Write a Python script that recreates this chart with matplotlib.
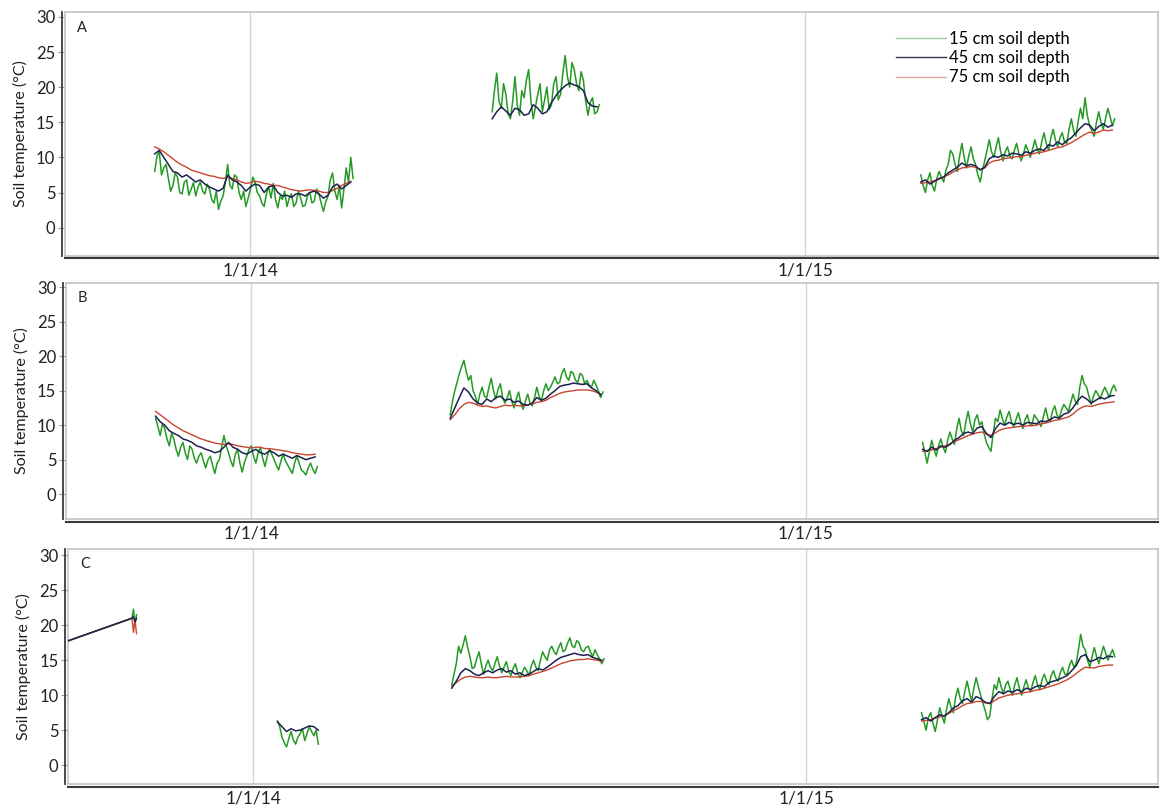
import matplotlib

matplotlib.use("Agg")
import matplotlib.pyplot as plt
import matplotlib.transforms as mtransforms
from matplotlib.lines import Line2D
import pandas as pd

plt.rcParams["font.family"] = ["Lato", "DejaVu Sans"]

COLOR_15 = "#249a24"
COLOR_45 = "#1c2150"
COLOR_75 = "#c9452f"
LEGEND_COLORS = ["#9ccf9c", "#34364a", "#d9a69c"]
LABELS = ["15 cm soil depth", "45 cm soil depth", "75 cm soil depth"]

X_START = "2013-09-01"
X_END = "2015-08-21"
TICK_DATES = ["2014-01-01", "2015-01-01"]
TICK_LABELS = ["1/1/14", "1/1/15"]
Y_TICKS = [0, 5, 10, 15, 20, 25, 30]

# sampling interval of the readings (hours): 15 cm logged more often than deeper probes
STEP_15 = 36
STEP_DEEP = 72

# ---- site A ----
A_WINTER_START = "2013-10-30"
A_WINTER_15 = [8.0, 10.2, 10.8, 7.5, 8.5, 9.0, 7.0, 5.2, 6.0, 7.8,
               7.2, 5.0, 4.8, 6.5, 6.8, 4.6, 5.5, 6.4, 4.5, 5.8,
               6.5, 5.2, 4.8, 6.2, 5.5, 4.0, 3.5, 5.2, 2.6, 3.8,
               4.5, 6.5, 9.0, 6.0, 5.5, 7.5, 7.2, 5.0, 4.0, 5.2,
               3.0, 4.2, 5.5, 7.2, 6.5, 5.0, 4.5, 3.5, 3.0, 4.8,
               5.8, 4.2, 6.3, 4.0, 2.8, 4.5, 4.0, 5.2, 3.0, 4.2,
               4.8, 3.0, 3.5, 5.2, 4.2, 3.0, 3.2, 4.5, 5.0, 3.5,
               3.8, 5.5, 4.8, 3.5, 2.3, 3.6, 4.5, 6.8, 7.8, 5.2,
               4.0, 6.0, 2.8, 5.5, 8.5, 6.5, 10.0, 7.0]
A_WINTER_45 = [10.5, 11.0, 10.0, 9.0, 8.0, 7.8, 7.2, 7.5, 7.0, 6.5,
               6.8, 6.2, 5.8, 5.5, 5.2, 5.6, 7.5, 6.8, 6.5, 6.0,
               5.2, 5.8, 6.2, 6.0, 5.0, 5.8, 6.0, 5.0, 4.5, 4.6,
               4.3, 4.8, 4.8, 4.5, 5.0, 5.2, 4.8, 4.2, 4.6, 5.8,
               6.2, 5.5, 6.0, 6.5]
A_WINTER_75 = [11.5, 11.2, 10.8, 10.3, 9.8, 9.3, 8.9, 8.6, 8.2, 8.0,
               7.8, 7.6, 7.4, 7.3, 7.1, 7.0, 7.2, 7.0, 6.8, 6.5,
               6.3, 6.4, 6.6, 6.5, 6.3, 6.2, 6.0, 6.0, 5.8, 5.6,
               5.4, 5.3, 5.2, 5.3, 5.4, 5.3, 5.2, 5.0, 5.0, 5.3,
               5.6, 6.0, 6.3, 6.6]

A_SUMMER_START = "2014-06-09"
A_SUMMER_15 = [16.5, 19.5, 22.0, 18.0, 17.0, 20.5, 19.0, 16.2, 15.5, 18.0,
               21.5, 17.5, 16.0, 19.5, 18.5, 21.0, 22.5, 18.0, 15.5, 17.2,
               19.0, 20.5, 16.5, 18.2, 20.0, 16.8, 17.5, 20.5, 21.5, 18.2,
               19.0, 22.0, 24.5, 21.5, 20.0, 23.5, 22.5, 20.5, 19.5, 22.2,
               21.0, 18.0, 16.0, 17.8, 18.5, 16.2, 16.5, 17.5]
A_SUMMER_45 = [15.5, 16.5, 17.2, 16.6, 16.0, 17.0, 16.8, 16.0, 16.2, 17.5,
               17.0, 16.2, 16.5, 17.8, 18.8, 19.6, 20.2, 20.6, 20.3, 20.1,
               19.5, 17.8, 17.3, 17.2]
A_SUMMER_75 = []

A_SPRING_START = "2015-03-18"
A_SPRING_15 = [7.5, 6.0, 5.0, 6.8, 7.8, 6.0, 5.2, 7.0, 8.0, 7.2,
               6.5, 8.2, 9.0, 11.0, 10.5, 9.0, 8.0, 10.2, 12.0, 10.0,
               8.5, 10.2, 11.5, 9.8, 9.0, 7.5, 6.5, 8.2, 9.5, 11.0,
               12.5, 10.8, 10.0, 11.5, 12.8, 10.8, 9.5, 10.8, 11.5, 10.2,
               9.8, 11.0, 12.0, 10.5, 9.5, 10.5, 11.8, 11.0, 10.0, 11.2,
               12.5, 11.2, 10.5, 12.2, 13.5, 12.0, 11.0, 12.8, 14.0, 12.5,
               11.5, 12.8, 13.5, 12.2, 12.0, 14.0, 15.5, 13.8, 13.0, 15.2,
               17.0, 15.5, 18.5, 16.0, 14.5, 13.8, 13.0, 15.0, 16.5, 15.0,
               14.0, 15.5, 17.0, 15.8, 14.5, 15.5]
A_SPRING_45 = [6.5, 6.8, 6.2, 6.6, 7.0, 7.2, 7.8, 8.2, 8.6, 9.2,
               8.8, 9.0, 8.8, 8.2, 8.6, 9.8, 10.2, 10.0, 10.4, 10.2,
               10.6, 10.5, 10.3, 10.8, 10.6, 11.0, 11.2, 11.0, 11.8, 11.6,
               12.2, 11.8, 12.4, 12.8, 13.5, 14.2, 14.8, 14.6, 13.8, 14.4,
               14.8, 14.3, 14.6]
A_SPRING_75 = [6.3, 6.4, 6.5, 6.7, 6.9, 7.2, 7.5, 7.9, 8.2, 8.5,
               8.6, 8.7, 8.6, 8.3, 8.5, 9.2, 9.5, 9.6, 9.8, 9.9,
               10.0, 10.1, 10.1, 10.3, 10.4, 10.6, 10.7, 10.8, 11.0, 11.2,
               11.4, 11.5, 11.8, 12.1, 12.5, 12.9, 13.3, 13.6, 13.4, 13.6,
               13.9, 13.8, 13.9]

# ---- site B ----
B_WINTER_START = "2013-10-30"
B_WINTER_15 = [11.0, 9.8, 8.5, 10.2, 9.5, 8.0, 7.0, 8.8, 8.0, 6.5,
               5.5, 6.8, 7.5, 6.0, 5.0, 7.0, 6.5, 5.2, 4.5, 5.5,
               6.0, 4.8, 3.8, 5.0, 5.5, 4.2, 3.0, 4.5, 5.0, 6.8,
               8.5, 7.0, 6.0, 4.8, 4.0, 5.8, 6.5, 4.5, 3.2, 4.6,
               5.5, 6.5, 7.0, 5.5, 4.5, 6.0, 6.8, 5.2, 4.0, 5.5,
               6.5, 5.8, 5.0, 4.2, 3.5, 4.8, 5.8, 4.8, 4.2, 3.6,
               3.0, 4.5, 5.5, 4.5, 3.5, 3.2, 2.8, 3.8, 4.5, 3.6,
               3.0, 4.0]
B_WINTER_45 = [11.3, 10.5, 10.0, 9.2, 8.8, 8.5, 8.0, 7.8, 7.5, 7.0,
               6.8, 6.5, 6.3, 6.0, 6.2, 6.8, 7.5, 6.8, 6.5, 6.0,
               5.8, 6.2, 6.5, 6.0, 5.8, 6.3, 6.0, 5.5, 5.8, 5.5,
               5.2, 5.6, 5.3, 5.0, 5.2, 5.4]
B_WINTER_75 = [12.0, 11.5, 11.0, 10.5, 10.0, 9.6, 9.2, 8.9, 8.6, 8.3,
               8.0, 7.8, 7.6, 7.4, 7.3, 7.2, 7.3, 7.2, 7.0, 6.9,
               6.8, 6.7, 6.8, 6.8, 6.6, 6.6, 6.5, 6.4, 6.3, 6.2,
               6.0, 5.9, 5.8, 5.7, 5.7, 5.8]

B_SUMMER_START = "2014-05-12"
B_SUMMER_15 = [11.5, 13.5, 15.0, 16.2, 17.5, 18.5, 19.4, 17.8, 16.5, 17.2,
               15.0, 14.2, 13.0, 14.5, 15.5, 14.2, 14.0, 15.5, 16.8, 15.0,
               13.8, 15.2, 16.0, 14.0, 13.2, 14.0, 15.0, 13.5, 12.5, 13.8,
               14.8, 13.2, 12.3, 13.5, 14.5, 13.2, 12.8, 14.0, 15.5, 14.2,
               13.5, 15.0, 16.0, 15.0, 15.5, 16.2, 17.0, 16.0, 16.2, 17.5,
               18.2, 17.0, 16.5, 17.8, 17.5, 16.5, 16.2, 17.5, 17.2, 16.0,
               16.5, 15.8, 15.5, 16.5, 15.8, 15.0, 14.0, 14.8]
B_SUMMER_45 = [11.0, 12.5, 14.0, 15.4, 14.8, 13.8, 13.2, 13.0, 13.8, 13.4,
               14.0, 14.2, 13.6, 13.8, 13.3, 13.5, 13.0, 12.9, 13.2, 14.0,
               13.6, 13.9, 14.5, 15.0, 15.6, 15.8, 15.9, 16.1, 16.0, 15.9,
               16.0, 15.4, 15.0, 14.4]
B_SUMMER_75 = [10.8, 11.5, 12.4, 13.0, 13.3, 13.2, 12.9, 12.7, 12.8, 12.6,
               12.5, 12.7, 12.9, 12.8, 12.9, 12.8, 12.8, 12.9, 13.1, 13.3,
               13.4, 13.6, 14.0, 14.3, 14.6, 14.8, 14.9, 15.0, 15.1, 15.1,
               15.1, 15.0, 14.8, 14.5]

B_SPRING_START = "2015-03-19"
B_SPRING_15 = [7.5, 6.0, 4.5, 6.2, 7.8, 6.5, 5.5, 7.0, 8.0, 6.8,
               6.0, 7.8, 9.0, 8.0, 7.2, 9.5, 11.0, 9.2, 8.5, 10.5,
               12.0, 10.2, 9.0, 10.8, 11.5, 10.0, 10.5, 8.8, 7.5, 6.8,
               6.2, 8.8, 11.0, 10.5, 12.2, 11.0, 10.0, 11.2, 12.0, 10.5,
               9.8, 10.8, 11.8, 10.5, 9.5, 10.8, 11.5, 10.2, 10.0, 11.5,
               11.0, 10.5, 9.8, 11.2, 12.5, 11.0, 10.5, 12.0, 12.8, 11.5,
               11.0, 12.2, 13.0, 12.5, 12.0, 13.2, 14.5, 13.5, 13.0, 15.5,
               17.2, 16.0, 15.5, 14.2, 13.0, 14.2, 15.0, 14.5, 13.8, 14.8,
               15.5, 14.8, 14.0, 15.2, 15.8, 15.0]
B_SPRING_45 = [6.5, 6.2, 6.8, 6.4, 7.0, 6.8, 7.2, 7.8, 8.2, 8.8,
               9.0, 8.8, 9.6, 9.8, 8.8, 8.2, 9.5, 10.3, 10.0, 10.4,
               10.1, 10.3, 10.0, 10.4, 10.3, 10.2, 10.6, 10.5, 10.8, 11.2,
               11.0, 11.6, 11.8, 12.5, 13.5, 14.2, 13.8, 13.2, 13.6, 14.0,
               13.8, 14.2, 14.3]
B_SPRING_75 = [6.2, 6.3, 6.4, 6.6, 6.8, 7.0, 7.3, 7.6, 7.9, 8.2,
               8.5, 8.7, 8.9, 9.0, 8.7, 8.5, 8.9, 9.3, 9.5, 9.6,
               9.7, 9.8, 9.8, 9.9, 9.9, 10.0, 10.2, 10.3, 10.5, 10.7,
               10.8, 11.0, 11.2, 11.6, 12.2, 12.6, 12.8, 12.7, 12.9, 13.1,
               13.2, 13.3, 13.4]

# ---- site C ----
C_AUTUMN_DATES = ["2013-08-01", "2013-10-13", "2013-10-14", "2013-10-15", "2013-10-16"]
C_AUTUMN_15 = [15.4, 21.0, 22.3, 20.0, 21.5]
C_AUTUMN_45 = [15.4, 21.0, 21.2, 20.5, 21.0]
C_AUTUMN_75 = [15.4, 21.0, 19.0, 20.8, 18.8]

C_WINTER_START = "2014-01-17"
C_WINTER_15 = [6.3, 5.5, 4.0, 3.2, 2.6, 3.8, 4.8, 3.6, 3.0, 4.0,
               4.5, 5.2, 3.5, 4.5, 5.5, 4.8, 4.2, 5.0, 3.0]
C_WINTER_45 = [6.2, 5.5, 4.8, 5.2, 4.9, 5.0, 5.3, 5.6, 5.5, 5.0]
C_WINTER_75 = []

C_SUMMER_START = "2014-05-12"
C_SUMMER_15 = [11.5, 13.0, 14.5, 17.0, 16.0, 17.2, 18.5, 16.8, 15.5, 13.8,
               14.0, 15.2, 16.2, 14.5, 13.0, 14.2, 15.0, 14.0, 13.5, 14.5,
               15.5, 14.2, 13.2, 14.0, 14.8, 13.5, 12.8, 13.8, 14.5, 13.2,
               12.5, 13.2, 14.0, 13.5, 12.8, 14.2, 15.0, 14.0, 13.5, 15.0,
               16.2, 15.5, 15.0, 16.5, 17.0, 16.2, 15.8, 16.8, 17.5, 16.2,
               16.5, 17.5, 18.2, 17.0, 16.8, 17.8, 17.5, 16.5, 16.2, 16.8,
               17.0, 16.2, 15.5, 16.5, 15.8, 15.2, 14.5, 15.2]
C_SUMMER_45 = [11.0, 12.0, 13.2, 13.8, 13.5, 13.0, 12.8, 13.2, 13.5, 13.2,
               13.6, 13.8, 13.3, 13.5, 13.0, 13.2, 12.8, 13.0, 13.4, 13.8,
               13.6, 14.0, 14.5, 15.0, 15.4, 15.6, 15.8, 16.0, 15.8, 15.7,
               15.8, 15.4, 15.2, 15.0]
C_SUMMER_75 = [11.3, 11.8, 12.3, 12.6, 12.7, 12.6, 12.5, 12.5, 12.6, 12.5,
               12.5, 12.6, 12.7, 12.6, 12.6, 12.6, 12.7, 12.8, 13.0, 13.2,
               13.4, 13.6, 13.9, 14.2, 14.5, 14.7, 14.9, 15.0, 15.1, 15.1,
               15.2, 15.1, 15.0, 14.8]

C_SPRING_START = "2015-03-18"
C_SPRING_15 = [7.5, 6.2, 5.0, 6.8, 7.5, 6.0, 4.8, 6.5, 8.2, 7.0,
               6.0, 8.0, 9.5, 8.2, 7.5, 9.8, 11.0, 9.5, 8.8, 10.5,
               12.0, 10.5, 9.2, 11.0, 12.5, 11.2, 10.0, 8.8, 7.8, 6.5,
               7.0, 9.5, 11.5, 10.8, 12.5, 11.2, 10.2, 11.5, 12.0, 10.8,
               10.0, 11.5, 12.5, 11.0, 10.0, 11.2, 12.2, 11.0, 10.5, 11.8,
               12.8, 11.5, 10.8, 12.2, 13.0, 12.0, 11.5, 12.8, 13.5, 12.5,
               12.0, 13.2, 14.0, 13.0, 13.0, 14.2, 15.0, 14.0, 14.5, 16.5,
               18.7, 17.0, 16.5, 15.0, 14.0, 15.5, 16.8, 15.5, 14.5, 15.8,
               17.0, 16.0, 15.0, 15.8, 16.5, 15.5]
C_SPRING_45 = [6.5, 6.8, 6.3, 6.8, 7.2, 7.0, 7.5, 8.2, 8.5, 9.2,
               9.5, 9.0, 9.8, 9.5, 9.0, 8.8, 9.8, 10.5, 10.2, 10.6,
               10.4, 10.8, 10.5, 11.0, 10.8, 11.2, 11.4, 11.2, 11.8, 12.0,
               12.2, 12.5, 12.8, 13.5, 14.2, 15.5, 15.8, 14.8, 15.0, 15.4,
               15.2, 15.6, 15.5]
C_SPRING_75 = [6.3, 6.4, 6.5, 6.7, 6.9, 7.1, 7.4, 7.8, 8.1, 8.5,
               8.8, 8.9, 9.1, 9.1, 8.9, 8.8, 9.2, 9.6, 9.8, 10.0,
               10.1, 10.2, 10.3, 10.4, 10.5, 10.7, 10.8, 11.0, 11.2, 11.4,
               11.6, 11.9, 12.2, 12.6, 13.1, 13.6, 14.0, 13.9, 13.9, 14.1,
               14.2, 14.3, 14.3]


def dates_for(start, values, step_hours):
    if isinstance(start, list):
        return pd.to_datetime(start[: len(values)])
    return pd.date_range(start, periods=len(values), freq=f"{step_hours}h")


PANELS = [
    {
        "letter": "A",
        "rect": [65 / 1166, 1 - 255.7 / 807, 1093 / 1166, 244 / 807],
        "ylim": (-4.0, 30.75),
        "segments": [
            (A_WINTER_START, A_WINTER_15, A_WINTER_45, A_WINTER_75),
            (A_SUMMER_START, A_SUMMER_15, A_SUMMER_45, A_SUMMER_75),
            (A_SPRING_START, A_SPRING_15, A_SPRING_45, A_SPRING_75),
        ],
        "legend": True,
    },
    {
        "letter": "B",
        "rect": [66 / 1166, 1 - 519 / 807, 1092 / 1166, 236 / 807],
        "ylim": (-3.6, 30.6),
        "segments": [
            (B_WINTER_START, B_WINTER_15, B_WINTER_45, B_WINTER_75),
            (B_SUMMER_START, B_SUMMER_15, B_SUMMER_45, B_SUMMER_75),
            (B_SPRING_START, B_SPRING_15, B_SPRING_45, B_SPRING_75),
        ],
        "legend": False,
    },
    {
        "letter": "C",
        "rect": [68.3 / 1166, 1 - 784 / 807, 1089.7 / 1166, 235 / 807],
        "ylim": (-2.7, 30.9),
        "segments": [
            (C_AUTUMN_DATES, C_AUTUMN_15, C_AUTUMN_45, C_AUTUMN_75),
            (C_WINTER_START, C_WINTER_15, C_WINTER_45, C_WINTER_75),
            (C_SUMMER_START, C_SUMMER_15, C_SUMMER_45, C_SUMMER_75),
            (C_SPRING_START, C_SPRING_15, C_SPRING_45, C_SPRING_75),
        ],
        "legend": False,
    },
]


def draw_panel(fig, panel):
    ax = fig.add_axes(panel["rect"])
    for start, s15, s45, s75 in panel["segments"]:
        if s15:
            ax.plot(dates_for(start, s15, STEP_15), s15, color=COLOR_15, lw=1.1, zorder=3)
        if s75:
            ax.plot(dates_for(start, s75, STEP_DEEP), s75, color=COLOR_75, lw=1.0, zorder=4)
        if s45:
            ax.plot(dates_for(start, s45, STEP_DEEP), s45, color=COLOR_45, lw=1.1, zorder=5)

    ax.set_xlim(pd.Timestamp(X_START), pd.Timestamp(X_END))
    ax.set_ylim(*panel["ylim"])
    ax.set_yticks(Y_TICKS)
    ax.set_xticks(pd.to_datetime(TICK_DATES))
    ax.set_xticklabels(TICK_LABELS)
    ax.tick_params(axis="x", length=0, pad=5, labelsize=12.5, colors="#222222")
    ax.tick_params(axis="y", length=5, width=0.8, color="#999999", pad=2,
                   labelsize=12, labelcolor="#222222")
    ax.grid(axis="x", color="#d4d4d4", lw=1.0)
    ax.set_axisbelow(True)
    for spine in ax.spines.values():
        spine.set_color("#c4c4c4")
        spine.set_linewidth(1.2)

    left_off = mtransforms.offset_copy(ax.transAxes, fig=fig, x=-3, y=0, units="dots")
    fig.add_artist(Line2D([0, 0], [0, 1], transform=left_off, color="#3a3a3a", lw=1.3))
    low_off = mtransforms.offset_copy(ax.transAxes, fig=fig, x=0, y=-2.5, units="dots")
    fig.add_artist(Line2D([0, 1], [0, 0], transform=low_off, color="#3a3a3a", lw=1.5))

    ax.set_ylabel("Soil temperature (°C)", fontsize=11.5, color="#222222")
    ax.yaxis.set_label_coords(-0.034, 0.5)
    ax.text(0.011, 0.935, panel["letter"], transform=ax.transAxes,
            fontsize=10.5, ha="left", va="center", color="#222222")

    if panel["legend"]:
        handles = [Line2D([], [], color=c, lw=1.0) for c in LEGEND_COLORS]
        ax.legend(handles, LABELS, loc="upper left", bbox_to_anchor=(0.76, 0.922),
                  frameon=False, fontsize=12, handlelength=3.0, handletextpad=0.2,
                  labelspacing=0.2, borderpad=0, borderaxespad=0)
    return ax


def main():
    fig = plt.figure(figsize=(11.66, 8.07), dpi=100)
    for panel in PANELS:
        draw_panel(fig, panel)
    fig.savefig("out.png", dpi=100)
    plt.close(fig)


if __name__ == "__main__":
    main()
